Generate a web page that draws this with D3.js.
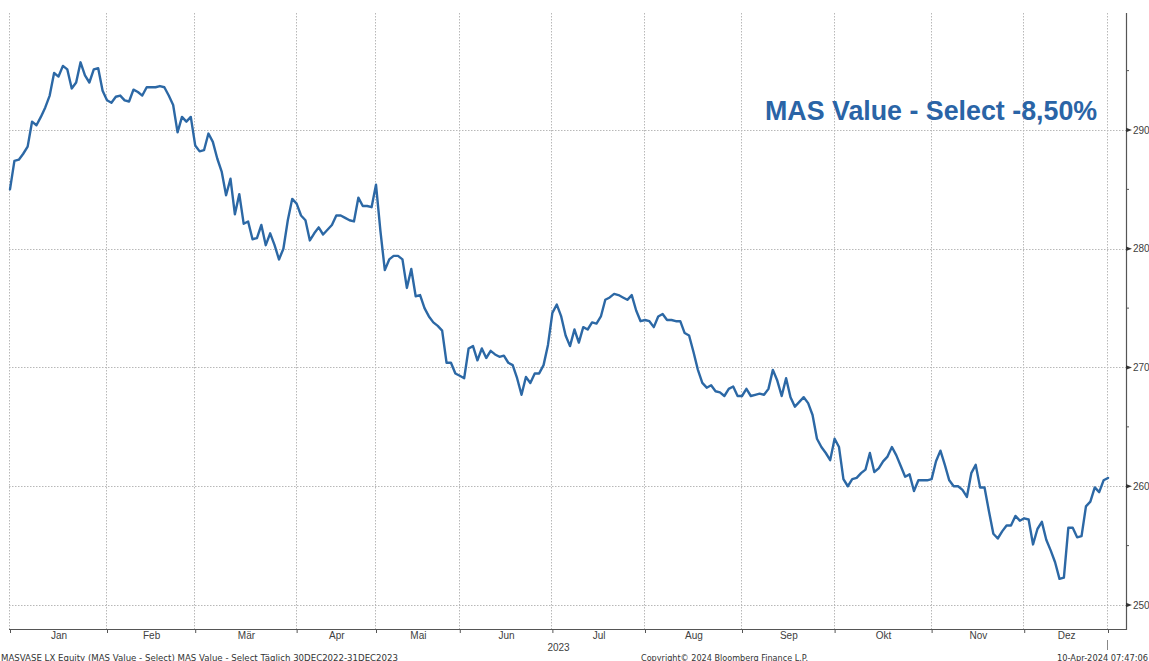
<!DOCTYPE html>
<html>
<head>
<meta charset="utf-8">
<script src="https://cdn.jsdelivr.net/npm/d3@7"></script>
<style>
  html, body { margin: 0; padding: 0; background: #ffffff; }
  svg { display: block; }
</style>
</head>
<body>
<svg id="chart" width="1149" height="661"></svg>
<script>
// ---------------- DATA ----------------
const title = "MAS Value - Select -8,50%";
const monthLabels = ["Jan","Feb","Mär","Apr","Mai","Jun","Jul","Aug","Sep","Okt","Nov","Dez"];
// trading days per month of 2023 (first point is 30 Dec 2022)
const monthTradingDays = [22,20,23,18,19,21,21,22,21,22,21,19];
const yearLabel = "2023";
const yTicks = [250,260,270,280,290];
const yMinorTicks = [255,265,275,285,295];
const footerLeft = "MASVASE LX Equity (MAS Value - Select) MAS Value - Select  Täglich 30DEC2022-31DEC2023";
const footerMid = "Copyright© 2024 Bloomberg Finance L.P.";
const footerRight = "10-Apr-2024 07:47:06";

// daily closing values, 30 Dec 2022 .. 29 Dec 2023
const values = [
  285.0,287.4,287.5,288.0,288.6,290.7,290.4,291.1,291.9,292.9,
  294.8,294.5,295.4,295.1,293.5,294.0,295.7,294.6,294.0,295.1,
  295.2,293.3,292.5,292.3,292.8,292.9,292.5,292.4,293.4,293.2,
  292.9,293.6,293.6,293.6,293.7,293.6,292.9,292.1,289.8,291.1,
  290.7,291.1,288.7,288.2,288.3,289.7,289.0,287.6,286.5,284.5,
  285.9,282.9,284.6,282.1,282.3,280.8,280.9,282.0,280.3,281.3,
  280.3,279.1,280.0,282.4,284.2,283.8,282.8,282.4,280.7,281.3,
  281.8,281.2,281.6,282.0,282.8,282.8,282.6,282.4,282.3,284.3,
  283.6,283.6,283.5,285.4,281.5,278.2,279.1,279.4,279.4,279.1,
  276.7,278.3,276.0,276.1,275.0,274.3,273.8,273.5,273.1,270.4,
  270.4,269.5,269.3,269.1,271.6,271.8,270.6,271.6,270.8,271.4,
  271.1,270.9,271.0,270.4,270.2,269.1,267.7,269.2,268.7,269.5,
  269.5,270.2,271.9,274.6,275.3,274.3,272.7,271.8,273.2,272.1,
  273.4,273.2,273.8,273.7,274.3,275.7,275.9,276.2,276.1,275.9,
  275.7,276.1,274.8,273.9,274.0,273.9,273.4,274.3,274.5,274.0,
  274.0,273.9,273.9,272.9,272.7,271.3,269.8,268.7,268.3,268.5,
  268.0,267.9,267.6,268.2,268.4,267.6,267.6,268.2,267.6,267.7,
  267.8,267.7,268.2,269.8,268.9,267.6,269.1,267.5,266.7,267.1,
  267.5,267.0,266.0,264.0,263.3,262.8,262.2,264.0,263.3,260.6,
  260.0,260.6,260.7,261.1,261.4,262.8,261.2,261.5,262.1,262.5,
  263.3,262.6,261.7,260.8,261.0,259.6,260.5,260.5,260.5,260.6,
  262.1,263.0,261.8,260.5,260.0,260.0,259.7,259.1,261.1,261.8,
  259.9,259.9,257.9,256.0,255.6,256.2,256.7,256.7,257.5,257.1,
  257.3,257.2,255.1,256.4,257.0,255.5,254.6,253.6,252.2,252.3,
  256.5,256.5,255.7,255.8,258.3,258.7,259.9,259.5,260.5,260.7
];

// ---------------- LAYOUT ----------------
const svg = d3.select("#chart");
const plot = { left: 9, right: 1126, top: 13, bottom: 629 };
const lineColor = "#2c68a5";
const gridColor = "#b8b8b8";
const axisColor = "#555555";
const textColor = "#404040";
const font = "'Liberation Sans', Arial, sans-serif";

// month boundaries in trading-day index
const boundaries = [0];
monthTradingDays.forEach(d => boundaries.push(boundaries[boundaries.length - 1] + d));

const x = d3.scaleLinear().domain([0, values.length - 1]).range([10, 1108]);
const y = d3.scaleLinear().domain([248, 299.85]).range([628.75, 13.03]);

// ---------------- GRID ----------------
const grid = svg.append("g");
grid.selectAll("line.h").data(yTicks).join("line")
  .attr("x1", plot.left).attr("x2", plot.right)
  .attr("y1", d => Math.round(y(d)) + 0.5).attr("y2", d => Math.round(y(d)) + 0.5)
  .attr("stroke", gridColor).attr("stroke-width", 1).attr("stroke-dasharray", "1.5,1.5");
grid.selectAll("line.v").data(boundaries).join("line")
  .attr("x1", d => Math.round(x(d)) - 0.5).attr("x2", d => Math.round(x(d)) - 0.5)
  .attr("y1", plot.top).attr("y2", plot.bottom)
  .attr("stroke", gridColor).attr("stroke-width", 1).attr("stroke-dasharray", "1.5,1.5");

// ---------------- LINE ----------------
const line = d3.line().x((d, i) => x(i)).y(d => y(d));
svg.append("path").datum(values)
  .attr("d", line)
  .attr("fill", "none")
  .attr("stroke", lineColor)
  .attr("stroke-width", 2.4)
  .attr("stroke-linejoin", "round")
  .attr("stroke-linecap", "round");

// ---------------- AXES ----------------
const xAxis = d3.axisBottom(x).tickValues(boundaries).tickFormat("").tickSize(4).tickSizeOuter(0);
const gx = svg.append("g").attr("transform", `translate(0,${plot.bottom})`).call(xAxis);
gx.select(".domain").remove();
gx.selectAll(".tick line").attr("stroke", axisColor);
svg.append("line").attr("x1", plot.left).attr("x2", plot.right)
  .attr("y1", plot.bottom + 0.5).attr("y2", plot.bottom + 0.5)
  .attr("stroke", axisColor).attr("stroke-width", 1.2);

const mids = monthLabels.map((m, i) => (boundaries[i] + boundaries[i + 1]) / 2);
const xLab = d3.axisBottom(x).tickValues(mids).tickFormat((d, i) => monthLabels[i]).tickSize(0).tickPadding(0);
const gxl = svg.append("g").attr("transform", `translate(0,${plot.bottom})`).call(xLab);
gxl.select(".domain").remove();
gxl.selectAll("text").attr("y", 10).attr("dy", 0)
  .attr("font-family", font).attr("font-size", 10).attr("fill", textColor);

svg.append("text").attr("x", 558.5).attr("y", 650.5).attr("text-anchor", "middle")
  .attr("font-family", font).attr("font-size", 10).attr("fill", textColor).text(yearLabel);
svg.append("line")
  .attr("x1", Math.round(x(values.length - 1)) - 0.5).attr("x2", Math.round(x(values.length - 1)) - 0.5)
  .attr("y1", 640).attr("y2", 650).attr("stroke", "#888").attr("stroke-width", 1);

svg.append("line").attr("x1", plot.right + 0.5).attr("x2", plot.right + 0.5)
  .attr("y1", plot.top).attr("y2", plot.bottom + 1)
  .attr("stroke", axisColor).attr("stroke-width", 1.2);
const yAxis = d3.axisRight(y).tickValues(yTicks).tickSize(0).tickPadding(7);
const gy = svg.append("g").attr("transform", `translate(${plot.right},0)`).call(yAxis);
gy.select(".domain").remove();
gy.selectAll("text").attr("font-family", font).attr("font-size", 10).attr("fill", textColor);
svg.append("g").selectAll("path").data(yTicks).join("path")
  .attr("d", d => { const yy = y(d); return `M${plot.right},${yy - 2.2}L${plot.right + 6},${yy}L${plot.right},${yy + 2.2}Z`; })
  .attr("fill", "#333");
svg.append("g").selectAll("line").data(yMinorTicks).join("line")
  .attr("x1", plot.right).attr("x2", plot.right + 3)
  .attr("y1", d => y(d)).attr("y2", d => y(d))
  .attr("stroke", axisColor).attr("stroke-width", 1);

// ---------------- TITLE ----------------
svg.append("text").attr("x", 765).attr("y", 120)
  .attr("font-family", font).attr("font-weight", "bold").attr("font-size", 26.8)
  .attr("fill", "#2a64a6").text(title);

// ---------------- FOOTER ----------------
const footerFont = "'DejaVu Sans', Verdana, sans-serif";
svg.append("text").attr("x", 1).attr("y", 660.5)
  .attr("font-family", footerFont).attr("font-size", 8.5).attr("fill", "#333")
  .attr("textLength", 397).attr("lengthAdjust", "spacingAndGlyphs").text(footerLeft);
svg.append("text").attr("x", 641).attr("y", 660.5)
  .attr("font-family", footerFont).attr("font-size", 8.5).attr("fill", "#333")
  .attr("textLength", 167).attr("lengthAdjust", "spacingAndGlyphs").text(footerMid);
svg.append("text").attr("x", 1057).attr("y", 660.5)
  .attr("font-family", footerFont).attr("font-size", 8.5).attr("fill", "#333")
  .attr("textLength", 91).attr("lengthAdjust", "spacingAndGlyphs").text(footerRight);
</script>
</body>
</html>
